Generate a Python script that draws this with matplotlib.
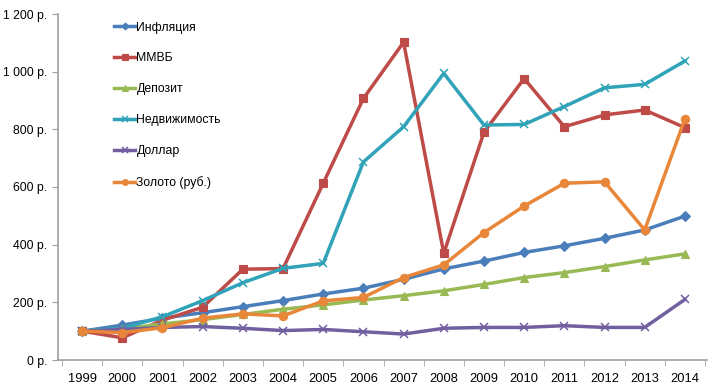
import matplotlib
matplotlib.use("Agg")
import matplotlib.pyplot as plt
import numpy as np
from matplotlib.ticker import FuncFormatter

years = [str(y) for y in range(1999, 2015)]

inflation = [100, 121, 145, 164, 185, 206, 229, 249, 280, 316, 343, 373, 396, 422, 451, 499]
micex = [100, 77, 138, 183, 315, 317, 613, 907, 1102, 370, 790, 976, 809, 850, 867, 806]
deposit = [100, 108, 125, 140, 158, 176, 191, 208, 223, 240, 262, 286, 303, 324, 347, 368]
realty = [100, 110, 150, 206, 268, 318, 335, 687, 809, 994, 815, 817, 879, 944, 956, 1037]
dollar = [100, 106, 113, 116, 110, 102, 106, 98, 90, 110, 113, 113, 119, 113, 113, 210]
gold = [100, 95, 112, 145, 160, 153, 205, 217, 286, 330, 442, 534, 613, 618, 451, 836]

series = [
    ("Инфляция", inflation, "#4A7EBB", "D", 5),
    ("ММВБ", micex, "#BE4B48", "s", 6),
    ("Депозит", deposit, "#98B954", "^", 6),
    ("Недвижимость", realty, "#31A3B8", "x", 6),
    ("Доллар", dollar, "#7160A0", "x", 6),
    ("Золото (руб.)", gold, "#E8873A", "o", 6),
]

plt.rcParams["font.family"] = ["Liberation Sans", "DejaVu Sans"]

fig = plt.figure(figsize=(7.09, 3.90), dpi=100)
ax = fig.add_axes([58 / 709, 30 / 390, 649 / 709, 346 / 390])

x = np.arange(len(years))
for name, vals, col, mk, ms in series:
    ax.plot(x, vals, color=col, lw=2.5, marker=mk, markersize=ms,
            markeredgewidth=1.1 if mk == "x" else 0.8,
            markeredgecolor=col, markerfacecolor=col, label=name)

ax.set_xlim(-0.6, len(years) - 0.45)
ax.set_ylim(0, 1200)
ax.set_yticks(np.arange(0, 1201, 200))
ax.yaxis.set_major_formatter(FuncFormatter(
    lambda v, p: "{:,} р.".format(int(v)).replace(",", " ")))

ax.set_xticks(x)
ax.set_xticklabels(years)
ax.set_xticks(np.arange(-0.5, len(years), 1), minor=True)
ax.tick_params(axis="x", which="major", length=0, pad=9, labelsize=9.3)
ax.tick_params(axis="x", which="minor", length=4, color="#A0A0A0")
ax.tick_params(axis="y", length=4, color="#A0A0A0", labelsize=8.8)

for s in ["top", "right"]:
    ax.spines[s].set_visible(False)
for s in ["left", "bottom"]:
    ax.spines[s].set_color("#A0A0A0")
    ax.spines[s].set_linewidth(1.2)

ax.legend(loc="upper left", bbox_to_anchor=(0.07, 1.01), frameon=False,
          fontsize=8.8, labelspacing=1.55, handlelength=1.7, handletextpad=0.1,
          markerscale=0.7)

fig.savefig("out.png", dpi=100)
